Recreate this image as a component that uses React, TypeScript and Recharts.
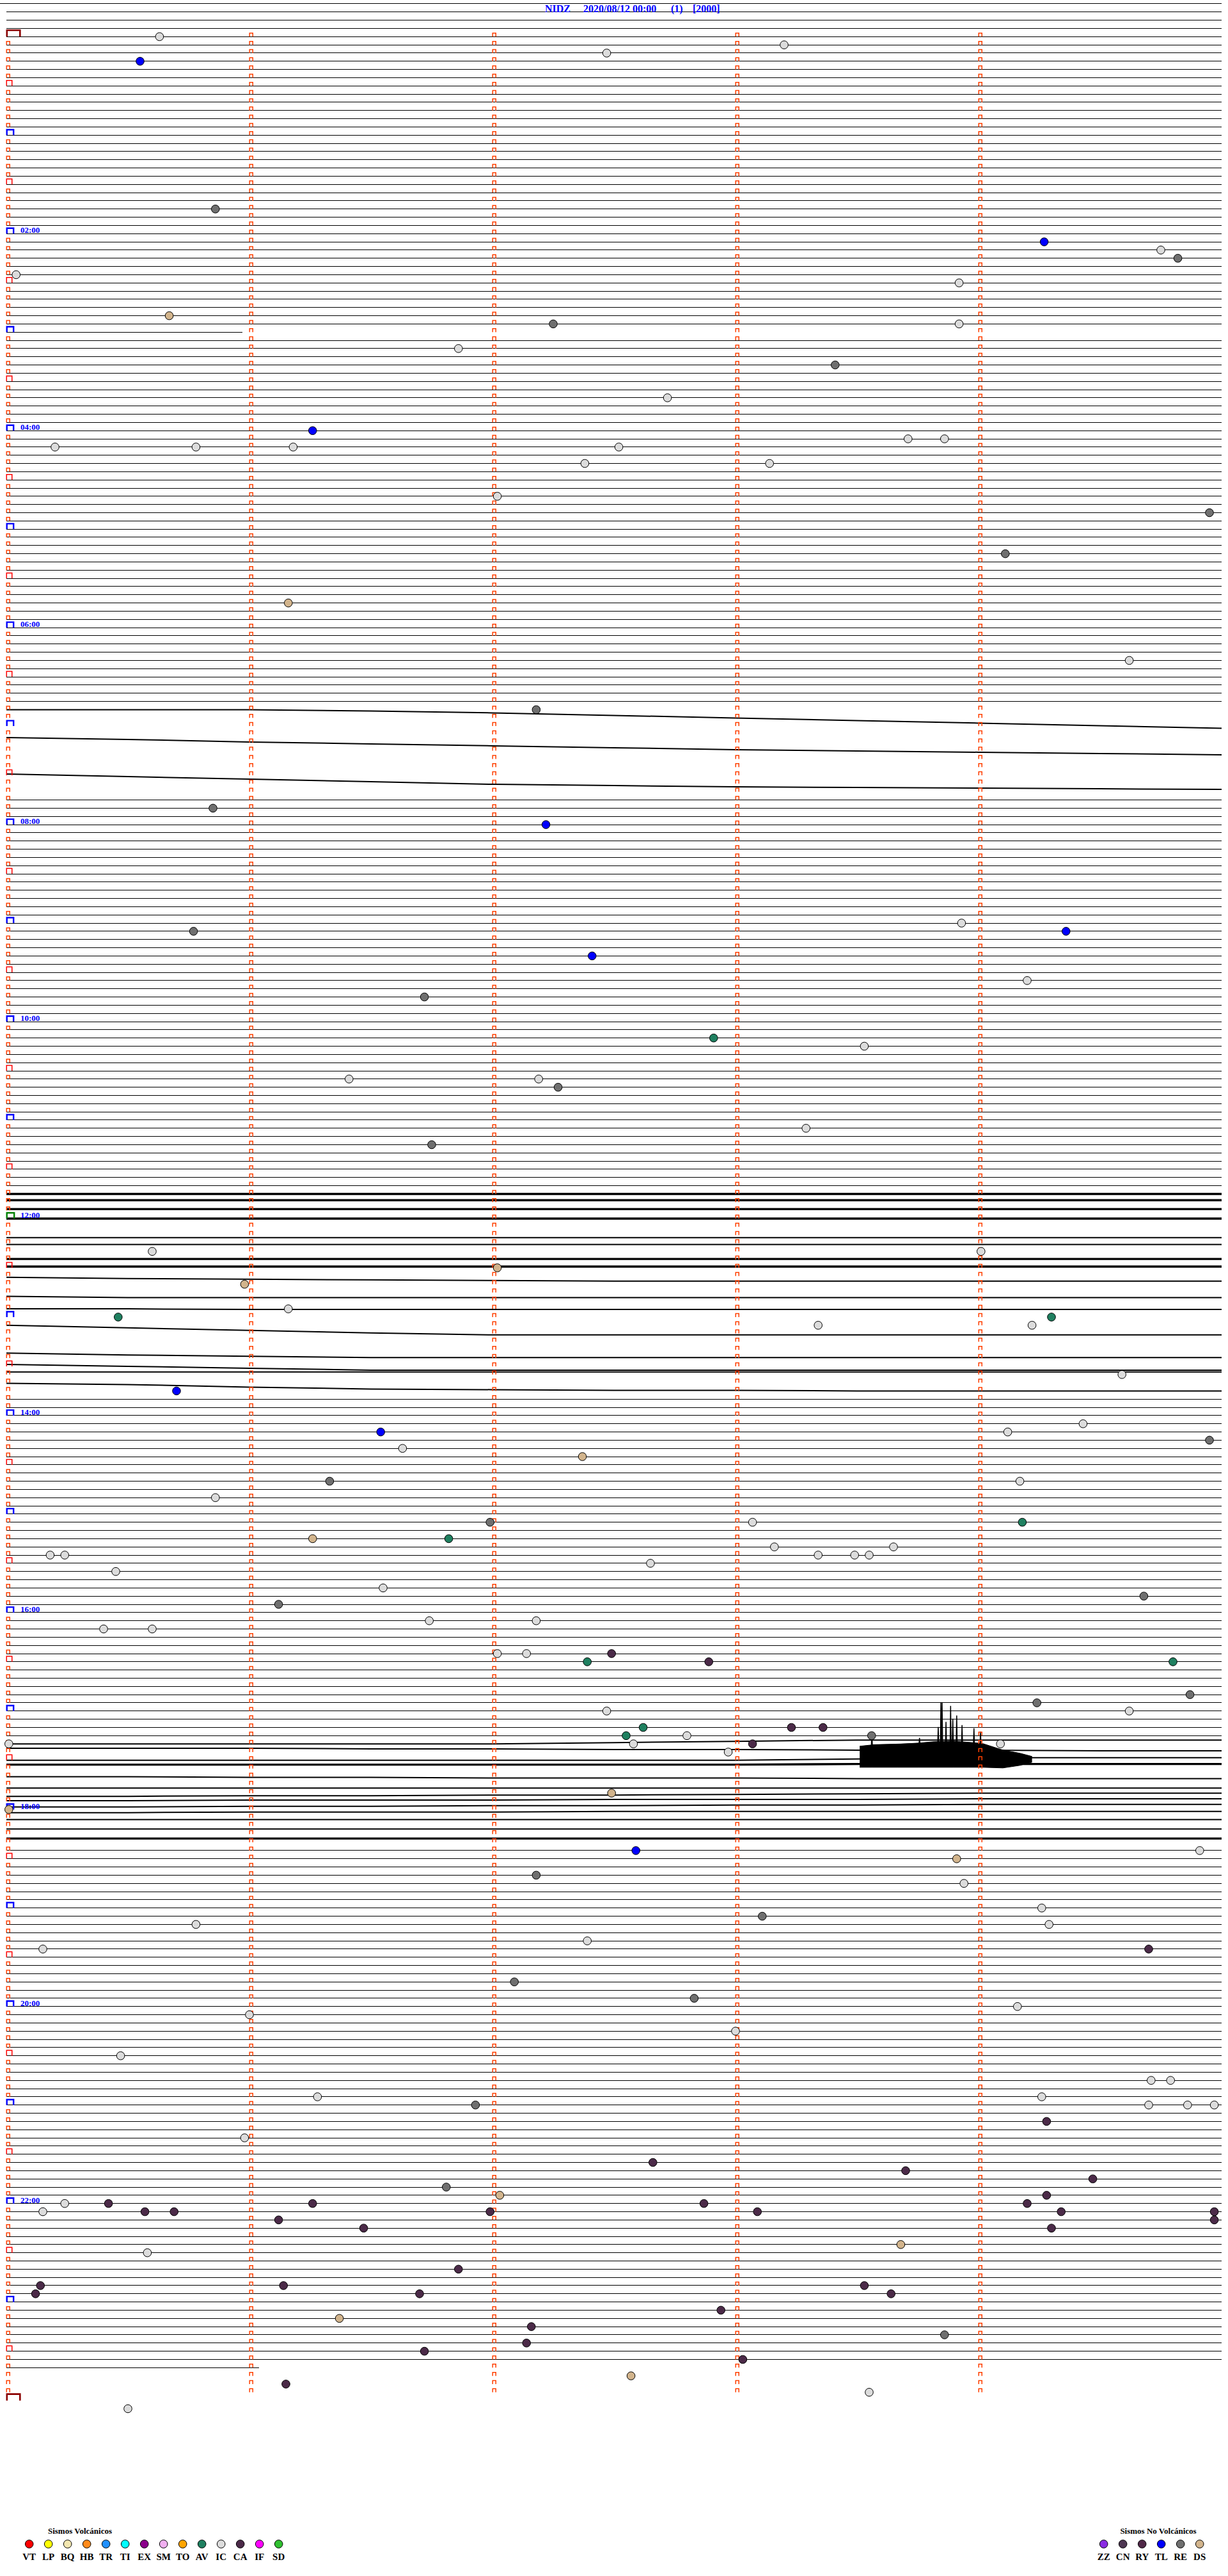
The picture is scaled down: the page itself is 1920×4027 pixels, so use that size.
import React from 'react';
import { ComposedChart, XAxis, YAxis, Line, Scatter, Area } from 'recharts';

// ---------------- data ----------------
const STATION = 'NIDZ';
const START_LABEL = '2020/08/12 00:00';
const PAGE_LABEL = '(1)';
const GAIN_LABEL = '[2000]';

const FIRST_ROW = -4;
const LAST_ROW = 284;
const DAY_ROWS = 288;
const minuteTicks = [0, 1, 2, 3, 4];

const hourLabelRows = [24, 48, 72, 96, 120, 144, 168, 192, 216, 240, 264];
const hourLabels = ['02:00', '04:00', '06:00', '08:00', '10:00', '12:00', '14:00', '16:00', '18:00', '20:00', '22:00'];

// rows with no trace drawn
const missingRows = [83, 84, 86, 87, 88, 89, 91, 92, 145, 148, 152, 154, 156, 158, 159, 161, 164];
// rows drawn only between two minutes [row, from, to]
const partialRows: [number, number, number][] = [[-4, -0.0263, 5], [36, 0, 0.97], [284, 0, 1.04]];

// wavy traces: amplitude read at these minutes (+ = downward)
const traceMinutes = [0, 0.5, 1, 1.5, 2, 2.5, 3, 3.5, 4, 4.5, 5];
const traces: [number, number[]][] = [
  [82, [0, 0, 0, 2, 5, 9, 13, 17, 21, 25, 29]],
  [85, [5, 8, 12, 15, 18, 21, 24, 26, 28, 30, 32]],
  [90, [-2, 2, 6, 10, 14, 16, 18, 19, 20, 21, 22]],
  [141, [0, 0, 0, 0, 0, 0, 0, 0, 0, 0, 0]],
  [142, [-3, -3, -3, -3, -3, -3, -3, -3, -3, -3, -3]],
  [143, [-2, -2, -2, -2, -2, -2, -2, -2, -2, -2, -2]],
  [144, [0, 0, 0, 0, 0, 0, 0, 0, 0, 0, 0]],
  [146, [4, 4, 4, 4, 4, 4, 4, 4, 4, 4, 4]],
  [147, [2, 2, 2, 2, 2, 2, 2, 2, 2, 2, 2]],
  [149, [-1, -1, -1, -1, -1, -1, -1, -1, -1, -1, -1]],
  [150, [-2, -2, -2, -2, -2, -2, -2, -2, -2, -2, -2]],
  [151, [2, 4, 5, 6, 7, 8, 8, 8, 8, 8, 8]],
  [153, [6, 8, 8, 8, 8, 8, 8, 8, 8, 8, 8]],
  [155, [0, 0, 1, 1, 1, 1, 1, 1, 1, 1, 1]],
  [157, [0, 4, 8, 12, 15, 15, 15, 15, 15, 15, 15]],
  [160, [5, 8, 10, 12, 12, 12, 12, 12, 12, 12, 12]],
  [162, [-3, 0, 3, 6, 6, 6, 6, 6, 6, 6, 6]],
  [163, [-4, -4, -4, -4, -4, -4, -4, -4, -4, -4, -4]],
  [165, [-12, -10, -6, -3, -2, -1, -1, 0, 0, 0, 0]],
  [208, [0, 0, 0, 0, 0, -2, -4, -6, -6, -6, -6]],
  [209, [-6, -6, -6, -5, -5, -4, -4, -3, -3, -2, -2]],
  [210, [0, 0, 0, 0, 0, 0, 0, -2, -4, -4, -4]],
  [211, [-6, -6, -6, -6, -6, -6, -6, -7, -7, -7, -7]],
  [212, [0, 0, 1, 1, 2, 2, 2, 3, 3, 3, 3]],
  [213, [5, 5, 5, 5, 5, 5, 5, 5, 5, 5, 5]],
  [214, [5, 5, 4, 4, 3, 3, 2, 1, 0, 0, 0]],
  [215, [-1, -1, -2, -2, -2, -3, -3, -3, -4, -4, -4]],
  [216, [-4, -4, -5, -5, -6, -6, -7, -7, -8, -8, -8]],
  [217, [-8, -8, -9, -9, -9, -10, -10, -10, -10, -10, -10]],
  [218, [-10, -10, -10, -10, -10, -10, -10, -10, -10, -10, -10]],
  [219, [-8, -8, -8, -8, -8, -8, -8, -8, -8, -8, -8]],
  [220, [-6, -6, -6, -6, -6, -6, -6, -6, -6, -6, -6]],
];
const heavyRows = [141, 142, 143, 144, 149, 150, 211, 220];

// burst on row 210 (minute, upper amp, lower amp)
const burstRow = 210;
const burstMinutes = [3.511, 3.561, 3.668, 3.755, 3.816, 3.895, 3.96, 4.018, 4.1, 4.17, 4.22];
const burstUpper = [-22, -24, -25, -27, -29, -30, -28, -26, -16, -11, -6];
const burstLower = [11, 11, 11, 11, 11, 11, 11, 11, 12, 8, 3];
const spikeMinutes = [3.559, 3.561, 3.563, 3.755, 3.757, 3.759, 3.832, 3.834, 3.836, 3.843, 3.845, 3.847, 3.848, 3.850, 3.852, 3.864, 3.866, 3.868, 3.883, 3.885, 3.887, 3.892, 3.894, 3.896, 3.908, 3.910, 3.912, 3.930, 3.932, 3.934, 3.979, 3.981, 3.983, 4.006, 4.008, 4.010];
const spikeAmps = [-24, -42, -24, -26, -35, -26, -28, -52, -28, -28, -90, -28, -28, -90, -28, -28, -60, -28, -29, -85, -29, -29, -65, -29, -29, -70, -29, -28, -55, -28, -27, -50, -27, -26, -45, -26];

// events: minute of day, class
const events: [number, string][] = [
  [0.63, 'IC'], [8.2, 'IC'], [12.47, 'IC'], [15.55, 'TL'], [105.86, 'RE'], [129.27, 'TL'], [134.75, 'IC'], [139.82, 'RE'],
  [145.04, 'IC'], [153.92, 'IC'], [170.67, 'DS'], [177.25, 'RE'], [178.92, 'IC'], [191.86, 'IC'], [203.41, 'RE'], [222.72, 'IC'],
  [241.26, 'TL'], [248.71, 'IC'], [248.86, 'IC'], [250.2, 'IC'], [250.78, 'IC'], [251.18, 'IC'], [252.52, 'IC'], [262.38, 'IC'],
  [263.14, 'IC'], [282.02, 'IC'], [294.95, 'RE'], [319.11, 'RE'], [346.16, 'DS'], [384.62, 'IC'], [412.18, 'RE'], [470.85, 'RE'],
  [482.22, 'TL'], [543.93, 'IC'], [545.77, 'RE'], [549.36, 'TL'], [562.41, 'TL'], [579.2, 'IC'], [586.72, 'RE'], [612.91, 'AV'],
  [618.53, 'IC'], [636.41, 'IC'], [637.19, 'IC'], [642.27, 'RE'], [668.29, 'IC'], [676.75, 'RE'], [740.6, 'IC'], [744.01, 'IC'],
  [752.02, 'DS'], [760.98, 'DS'], [776.16, 'IC'], [780.46, 'AV'], [784.3, 'AV'], [788.34, 'IC'], [789.22, 'IC'], [819.59, 'IC'],
  [825.7, 'TL'], [849.43, 'IC'], [851.54, 'TL'], [854.12, 'IC'], [859.95, 'RE'], [861.63, 'IC'], [867.37, 'DS'], [881.33, 'RE'],
  [884.17, 'IC'], [890.86, 'IC'], [906.99, 'RE'], [908.07, 'IC'], [909.18, 'AV'], [916.26, 'DS'], [916.82, 'AV'], [923.16, 'IC'],
  [923.65, 'IC'], [925.18, 'IC'], [925.24, 'IC'], [928.34, 'IC'], [928.49, 'IC'], [928.55, 'IC'], [932.65, 'IC'], [935.45, 'IC'],
  [946.55, 'IC'], [954.68, 'RE'], [956.12, 'RE'], [966.74, 'IC'], [967.18, 'IC'], [970.4, 'IC'], [970.6, 'IC'], [987.02, 'IC'],
  [987.14, 'IC'], [987.49, 'CA'], [992.39, 'AV'], [992.89, 'CA'], [994.8, 'AV'], [1014.87, 'RE'], [1019.24, 'RE'], [1022.47, 'IC'],
  [1024.62, 'IC'], [1032.62, 'AV'], [1033.23, 'CA'], [1033.36, 'CA'], [1037.55, 'AV'], [1037.8, 'IC'], [1038.56, 'RE'], [1040.01, 'IC'],
  [1042.58, 'IC'], [1043.07, 'CA'], [1044.09, 'IC'], [1047.97, 'IC'], [1072.49, 'DS'], [1080.01, 'DS'], [1107.59, 'TL'], [1109.91, 'IC'],
  [1113.91, 'DS'], [1122.18, 'RE'], [1128.94, 'IC'], [1144.26, 'IC'], [1148.11, 'RE'], [1150.78, 'IC'], [1154.29, 'IC'], [1162.39, 'IC'],
  [1165.15, 'IC'], [1169.7, 'CA'], [1187.09, 'RE'], [1197.83, 'RE'], [1204.16, 'IC'], [1206.0, 'IC'], [1218.0, 'IC'], [1230.47, 'IC'],
  [1249.71, 'IC'], [1249.79, 'IC'], [1256.28, 'IC'], [1259.26, 'IC'], [1261.93, 'RE'], [1264.7, 'IC'], [1264.86, 'IC'], [1264.97, 'IC'],
  [1274.28, 'CA'], [1280.98, 'IC'], [1297.66, 'CA'], [1303.7, 'CA'], [1309.47, 'CA'], [1311.81, 'RE'], [1317.03, 'DS'], [1319.28, 'CA'],
  [1320.24, 'IC'], [1320.42, 'CA'], [1321.26, 'CA'], [1322.87, 'CA'], [1324.2, 'CA'], [1325.15, 'IC'], [1325.57, 'CA'], [1325.69, 'CA'],
  [1326.99, 'CA'], [1328.09, 'CA'], [1329.34, 'CA'], [1329.97, 'CA'], [1331.12, 'CA'], [1334.97, 'CA'], [1336.47, 'CA'], [1339.3, 'CA'],
  [1348.68, 'DS'], [1350.58, 'IC'], [1361.86, 'CA'], [1370.14, 'CA'], [1371.14, 'CA'], [1373.53, 'CA'], [1375.12, 'CA'], [1376.7, 'CA'],
  [1378.64, 'CA'], [1387.94, 'CA'], [1391.37, 'DS'], [1397.16, 'CA'], [1403.86, 'RE'], [1407.14, 'CA'], [1411.72, 'CA'], [1418.03, 'CA'],
  [1427.57, 'DS'], [1431.15, 'CA'], [1438.55, 'IC'], [1445.5, 'IC'],
];

const volcanicCodes = ['VT', 'LP', 'BQ', 'HB', 'TR', 'TI', 'EX', 'SM', 'TO', 'AV', 'IC', 'CA', 'IF', 'SD'];
const volcanicColors = ['#ff0000', '#ffff00', '#f2e6b0', '#ff8a1a', '#2090ff', '#00ffff', '#8b008b', '#f0b0f0', '#ffa500', '#1f8060', '#dcdcdc', '#4b2a48', '#ff00ff', '#30c030'];
const nonVolcanicCodes = ['ZZ', 'CN', 'RY', 'TL', 'RE', 'DS'];
const nonVolcanicColors = ['#8a2be2', '#4e3652', '#502848', '#0000ff', '#6f6f6f', '#d2b48c'];

// ---------------- chart frame ----------------
const W = 1920;
const H = 4027;
const LEFT_PX = 10;
const MIN_PX = 380;
const TOP_PX = 57.3;
const ROW_PX = 12.831;
const X_DOMAIN: [number, number] = [-LEFT_PX / MIN_PX, (W - LEFT_PX) / MIN_PX];
const Y_DOMAIN: [number, number] = [-TOP_PX / ROW_PX, (H - TOP_PX) / ROW_PX];
const SERIF = "'Liberation Serif', 'Times New Roman', 'DejaVu Serif', serif";

const colorOf: Record<string, string> = {};
volcanicCodes.forEach((c, i) => (colorOf[c] = volcanicColors[i]));
nonVolcanicCodes.forEach((c, i) => (colorOf[c] = nonVolcanicColors[i]));

const traceMap = new Map(traces.map(t => [t[0], t[1]]));

const flatRows: { key: string; data: { x: number; y: number }[] }[] = [];
for (let r = FIRST_ROW; r <= LAST_ROW; r++) {
  if (missingRows.includes(r) || traceMap.has(r)) continue;
  const p = partialRows.find(q => q[0] === r);
  const a = p ? p[1] : 0;
  const b = p ? p[2] : 5;
  flatRows.push({ key: 'r' + r, data: [{ x: a, y: r }, { x: b, y: r }] });
}

const traceLines = traces.map(([row, amps]) => ({
  row,
  data: traceMinutes.map((m, i) => ({ x: m, y: row + amps[i] / ROW_PX })),
}));

const burstData = burstMinutes.map((m, i) => ({ x: m, y: [burstRow + burstUpper[i] / ROW_PX, burstRow + burstLower[i] / ROW_PX] }));
const spikeData = spikeMinutes.map((m, i) => ({ x: m, y: burstRow + spikeAmps[i] / ROW_PX }));

type MarkKind = 'min' | 'half' | 'hour' | 'noon' | 'day';
const marks: { x: number; y: number; k: MarkKind }[] = [];
for (let r = 0; r < DAY_ROWS; r++) {
  for (const m of minuteTicks) {
    let k: MarkKind = 'min';
    if (m === 0) {
      if (r === 0) k = 'day';
      else if (r === 144) k = 'noon';
      else if (r % 12 === 0) k = 'hour';
      else if (r % 6 === 0) k = 'half';
    }
    marks.push({ x: m, y: r, k });
  }
}
marks.push({ x: 0, y: DAY_ROWS, k: 'day' });

const MARK_STYLE: Record<MarkKind, { w: number; h: number; c: string; sw: number }> = {
  min: { w: 5, h: 5.5, c: '#ff4000', sw: 1.5 },
  half: { w: 8.5, h: 8.5, c: '#ff0000', sw: 1.5 },
  hour: { w: 10.5, h: 8.5, c: '#0000ff', sw: 2.4 },
  noon: { w: 11.5, h: 9, c: '#008000', sw: 2.4 },
  day: { w: 20.5, h: 10, c: '#8b0000', sw: 2.6 },
};

const eventPts = events.map(([t, type]) => {
  const row = Math.floor(t / 5);
  return { x: t - row * 5, y: row, type };
});

const labelPts = hourLabelRows.map((r, i) => ({ x: 0, y: r, label: hourLabels[i] }));

const MarkShape = (p: any) => {
  const { cx, cy, payload } = p;
  if (cx == null || cy == null) return <g />;
  const s = MARK_STYLE[payload.k as MarkKind];
  const x0 = cx + s.sw / 2 - 0.5;
  return <path d={`M${x0},${cy}V${cy - s.h}H${x0 + s.w}V${cy}`} fill="none" stroke={s.c} strokeWidth={s.sw} />;
};

const EventShape = (p: any) => {
  const { cx, cy, payload } = p;
  if (cx == null || cy == null) return <g />;
  return <circle cx={cx} cy={cy} r={6.3} fill={colorOf[payload.type]} stroke="#000" strokeWidth={1} />;
};

const LabelShape = (p: any) => {
  const { cx, cy, payload } = p;
  if (cx == null || cy == null) return <g />;
  return (
    <text x={cx + 22} y={cy - 1} fill="#0000ff" fontFamily={SERIF} fontWeight="bold" fontSize={13}>
      {payload.label}
    </text>
  );
};

const Legend = () => (
  <svg width={W} height={H} style={{ position: 'absolute', left: 0, top: 0, pointerEvents: 'none' }}>
    <text y={18.5} fill="#0000ff" fontFamily={SERIF} fontWeight="bold" fontSize={16}>
      <tspan x={852}>{STATION}</tspan>
      <tspan x={912}>{START_LABEL}</tspan>
      <tspan x={1049}>{PAGE_LABEL}</tspan>
      <tspan x={1083}>{GAIN_LABEL}</tspan>
    </text>
    <text x={125} y={3961} textAnchor="middle" fill="#000" fontFamily={SERIF} fontWeight="bold" fontSize={13}>Sismos Volcánicos</text>
    {volcanicCodes.map((c, i) => (
      <g key={c}>
        <circle cx={45.7 + 30 * i} cy={3977} r={6.3} fill={volcanicColors[i]} stroke="#000" strokeWidth={1} />
        <text x={45.7 + 30 * i} y={4001.5} textAnchor="middle" fontFamily={SERIF} fontWeight="bold" fontSize={15} fill="#000">{c}</text>
      </g>
    ))}
    <text x={1811} y={3961} textAnchor="middle" fill="#000" fontFamily={SERIF} fontWeight="bold" fontSize={13}>Sismos No Volcánicos</text>
    {nonVolcanicCodes.map((c, i) => (
      <g key={c}>
        <circle cx={1725.7 + 30 * i} cy={3977} r={6.3} fill={nonVolcanicColors[i]} stroke="#000" strokeWidth={1} />
        <text x={1725.7 + 30 * i} y={4001.5} textAnchor="middle" fontFamily={SERIF} fontWeight="bold" fontSize={15} fill="#000">{c}</text>
      </g>
    ))}
  </svg>
);

export default function App() {
  return (
    <div style={{ position: 'absolute', left: 0, top: 0, width: W, height: H, background: '#fff' }}>
      <style>{`.flat-row path { shape-rendering: crispEdges; }`}</style>
      <ComposedChart width={W} height={H} margin={{ top: 0, right: 0, bottom: 0, left: 0 }}>
        <XAxis type="number" dataKey="x" domain={X_DOMAIN} allowDataOverflow hide />
        <YAxis type="number" dataKey="y" domain={Y_DOMAIN} allowDataOverflow reversed hide width={0} />
        {flatRows.map(f => (
          <Line key={f.key} className="flat-row" data={f.data} dataKey="y" dot={false} activeDot={false} stroke="#000" strokeWidth={1} isAnimationActive={false} type="linear" />
        ))}
        {traceLines.map(t => (
          <Line key={'t' + t.row} data={t.data} dataKey="y" dot={false} activeDot={false} stroke="#000"
            strokeWidth={heavyRows.includes(t.row) ? 3.4 : 2} isAnimationActive={false} type="linear" />
        ))}
        <Area data={burstData} dataKey="y" type="linear" fill="#000" fillOpacity={1} stroke="#000" strokeWidth={1} isAnimationActive={false} dot={false} activeDot={false} />
        <Line data={spikeData} dataKey="y" dot={false} activeDot={false} stroke="#000" strokeWidth={1.5} isAnimationActive={false} type="linear" />
        <Scatter data={marks} dataKey="y" shape={MarkShape} isAnimationActive={false} />
        <Scatter data={labelPts} dataKey="y" shape={LabelShape} isAnimationActive={false} />
        <Scatter data={eventPts} dataKey="y" shape={EventShape} isAnimationActive={false} />
      </ComposedChart>
      <Legend />
    </div>
  );
}
